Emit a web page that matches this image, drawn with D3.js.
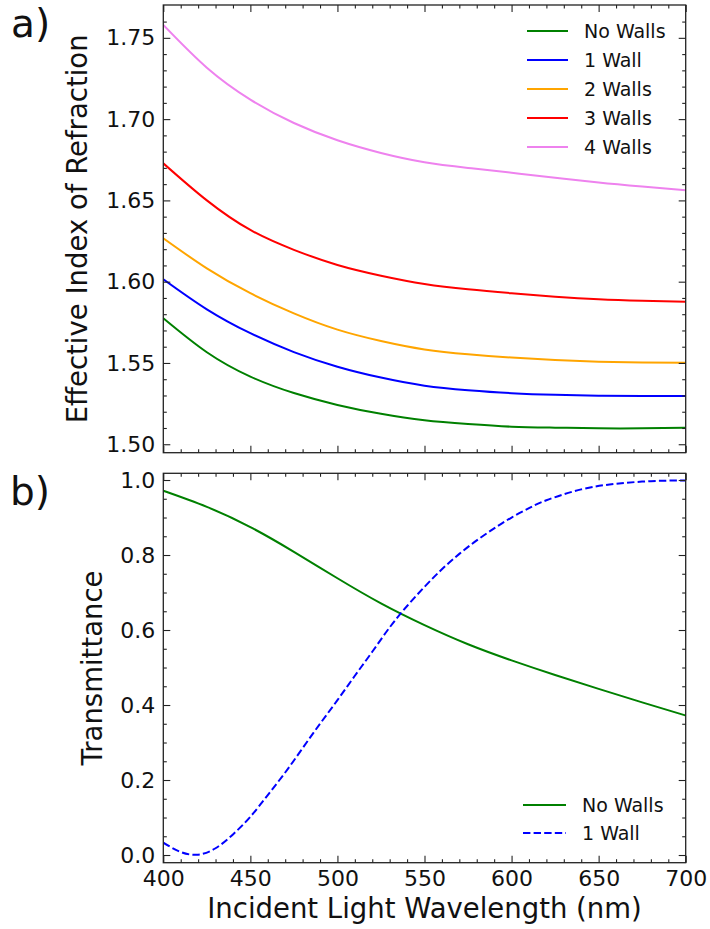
<!DOCTYPE html>
<html>
<head>
<meta charset="utf-8">
<script src="https://cdn.jsdelivr.net/npm/d3@7"></script>
<style>
  html, body { margin: 0; padding: 0; background: #fff; }
  svg text { font-family: "DejaVu Sans", sans-serif; fill: #111; }
</style>
</head>
<body>
<svg id="chart" width="710" height="929"></svg>
<script>
// ---------- data ----------
const wavelengths = [400, 425, 450, 475, 500, 525, 550, 575, 600, 625, 650, 675, 700];
const nNoWalls   = [1.5775, 1.5566, 1.5416, 1.5315, 1.5242, 1.5187, 1.5147, 1.5124, 1.5108, 1.5102, 1.5098, 1.5098, 1.5102];
const nOneWall   = [1.6015, 1.5830, 1.5683, 1.5567, 1.5477, 1.5410, 1.5360, 1.5332, 1.5314, 1.5304, 1.5299, 1.5297, 1.5297];
const nTwoWalls  = [1.6267, 1.6082, 1.5929, 1.5805, 1.5705, 1.5635, 1.5583, 1.5553, 1.5533, 1.5518, 1.5508, 1.5503, 1.5502];
const nThreeWalls= [1.6728, 1.6500, 1.6318, 1.6196, 1.6103, 1.6037, 1.5986, 1.5953, 1.5929, 1.5908, 1.5892, 1.5883, 1.5877];
const nFourWalls = [1.7579, 1.7316, 1.7120, 1.6976, 1.6870, 1.6792, 1.6735, 1.6700, 1.6670, 1.6640, 1.6610, 1.6585, 1.6562];
const indexSeriesNames = ["No Walls", "1 Wall", "2 Walls", "3 Walls", "4 Walls"];
const indexColors = ["green", "blue", "orange", "red", "violet"];

const tNoWallsWl = [400, 425, 450, 475, 500, 525, 550, 575, 600, 625, 650, 675, 700];
const tNoWalls   = [0.9715, 0.9285, 0.8745, 0.8085, 0.738, 0.671, 0.613, 0.562, 0.519, 0.480, 0.443, 0.407, 0.372];
const tOneWallWl = [400, 410, 420, 430, 440, 450, 460, 470, 480, 490, 500, 510, 520, 530, 540, 550, 560, 570, 580, 590, 600, 610, 620, 640, 660, 680, 700];
const tOneWall   = [0.033, 0.008, 0.001, 0.018, 0.055, 0.102, 0.160, 0.220, 0.285, 0.350, 0.413, 0.478, 0.542, 0.607, 0.664, 0.715, 0.762, 0.803, 0.839, 0.871, 0.900, 0.925, 0.946, 0.975, 0.990, 0.997, 0.999];
const transNames = ["No Walls", "1 Wall"];

const xMajor = [400, 450, 500, 550, 600, 650, 700];
const xTickLabels = ["400", "450", "500", "550", "600", "650", "700"];
const yTopMajor = [1.50, 1.55, 1.60, 1.65, 1.70, 1.75];
const yTopLabels = ["1.50", "1.55", "1.60", "1.65", "1.70", "1.75"];
const yBotMajor = [0.0, 0.2, 0.4, 0.6, 0.8, 1.0];
const yBotLabels = ["0.0", "0.2", "0.4", "0.6", "0.8", "1.0"];

// ---------- layout ----------
const L = 163.3, R = 685.7;
const topT = 5, topB = 452.7, botT = 473.3, botB = 862.7;

const svg = d3.select("#chart");
const x = d3.scaleLinear().domain([400, 700]).range([L, R]);
const yTop = d3.scaleLinear().domain([1.4948, 1.7702]).range([topB, topT]);
const yBot = d3.scaleLinear().domain([-0.0205, 1.0179]).range([botB, botT]);

const xMinor = d3.range(400, 701, 10).filter(v => v % 50 !== 0);
const yTopMinor = d3.range(150, 177, 1).map(v => v / 100).filter(v => Math.round(v * 100) % 5 !== 0 && v > 1.4948 && v < 1.7702);
const yBotMinor = d3.range(0, 21, 1).map(v => v * 0.05).filter((v, i) => i % 4 !== 0);

function drawPanel(y, top, bottom, yMajor, yLabels, yMinor, showXLabels) {
  const g = svg.append("g");
  const TL = 7, TS = 3.5;
  g.append("g").attr("transform", `translate(0,${bottom})`)
    .call(d3.axisBottom(x).tickValues(xMajor).tickSizeInner(-TL).tickSizeOuter(0).tickPadding(7.5)
      .tickFormat((d, i) => showXLabels ? xTickLabels[i] : ""))
    .call(a => a.selectAll("text").style("font-size", "22px"));
  g.append("g").attr("transform", `translate(0,${bottom})`)
    .call(d3.axisBottom(x).tickValues(xMinor).tickSizeInner(-TS).tickSizeOuter(0).tickFormat(""));
  g.append("g").attr("transform", `translate(0,${top})`)
    .call(d3.axisTop(x).tickValues(xMajor).tickSizeInner(-TL).tickSizeOuter(0).tickFormat(""));
  g.append("g").attr("transform", `translate(0,${top})`)
    .call(d3.axisTop(x).tickValues(xMinor).tickSizeInner(-TS).tickSizeOuter(0).tickFormat(""));
  g.append("g").attr("transform", `translate(${L},0)`)
    .call(d3.axisLeft(y).tickValues(yMajor).tickSizeInner(-TL).tickSizeOuter(0).tickPadding(8)
      .tickFormat((d, i) => yLabels[i]))
    .call(a => a.selectAll("text").style("font-size", "22px"));
  g.append("g").attr("transform", `translate(${L},0)`)
    .call(d3.axisLeft(y).tickValues(yMinor).tickSizeInner(-TS).tickSizeOuter(0).tickFormat(""));
  g.append("g").attr("transform", `translate(${R},0)`)
    .call(d3.axisRight(y).tickValues(yMajor).tickSizeInner(-TL).tickSizeOuter(0).tickFormat(""));
  g.append("g").attr("transform", `translate(${R},0)`)
    .call(d3.axisRight(y).tickValues(yMinor).tickSizeInner(-TS).tickSizeOuter(0).tickFormat(""));
  g.selectAll(".domain").remove();
  g.selectAll(".tick line").attr("stroke", "#222").attr("stroke-width", 1.1);
  g.append("rect").attr("x", L).attr("y", top).attr("width", R - L).attr("height", bottom - top)
    .attr("fill", "none").attr("stroke", "#222").attr("stroke-width", 1.3);
  return g;
}

// ---- panel a ----
svg.append("clipPath").attr("id", "clipA").append("rect")
  .attr("x", L).attr("y", topT).attr("width", R - L).attr("height", topB - topT);
const lineTop = d3.line().x(d => x(d[0])).y(d => yTop(d[1])).curve(d3.curveNatural);
const indexSeries = [nNoWalls, nOneWall, nTwoWalls, nThreeWalls, nFourWalls];
const gA = svg.append("g").attr("clip-path", "url(#clipA)");
indexSeries.forEach((s, i) => {
  gA.append("path").datum(wavelengths.map((w, j) => [w, s[j]]))
    .attr("d", lineTop).attr("fill", "none").attr("stroke", indexColors[i]).attr("stroke-width", 2);
});
drawPanel(yTop, topT, topB, yTopMajor, yTopLabels, yTopMinor, false);

const legA = svg.append("g");
indexSeriesNames.forEach((n, i) => {
  const yy = 31 + i * 29;
  legA.append("line").attr("x1", 527).attr("x2", 568).attr("y1", yy).attr("y2", yy)
    .attr("stroke", indexColors[i]).attr("stroke-width", 2);
  legA.append("text").attr("x", 584).attr("y", yy).attr("dy", "0.36em")
    .style("font-size", "19px").text(n);
});

// ---- panel b ----
svg.append("clipPath").attr("id", "clipB").append("rect")
  .attr("x", L).attr("y", botT).attr("width", R - L).attr("height", botB - botT);
const lineBot = d3.line().x(d => x(d[0])).y(d => yBot(d[1])).curve(d3.curveNatural);
const gB = svg.append("g").attr("clip-path", "url(#clipB)");
gB.append("path").datum(tNoWallsWl.map((w, j) => [w, tNoWalls[j]]))
  .attr("d", lineBot).attr("fill", "none").attr("stroke", "green").attr("stroke-width", 2);
gB.append("path").datum(tOneWallWl.map((w, j) => [w, tOneWall[j]]))
  .attr("d", lineBot).attr("fill", "none").attr("stroke", "blue").attr("stroke-width", 2).attr("stroke-dasharray", "7.4,3.2");
drawPanel(yBot, botT, botB, yBotMajor, yBotLabels, yBotMinor, true);

const legB = svg.append("g");
transNames.forEach((n, i) => {
  const yy = 805 + i * 28;
  const ln = legB.append("line").attr("x1", 523).attr("x2", 566).attr("y1", yy).attr("y2", yy)
    .attr("stroke", i === 0 ? "green" : "blue").attr("stroke-width", 2);
  if (i === 1) ln.attr("stroke-dasharray", "7.4,3.2");
  legB.append("text").attr("x", 582).attr("y", yy).attr("dy", "0.36em")
    .style("font-size", "19px").text(n);
});

// ---- labels ----
svg.append("text").attr("transform", `translate(87,${(topT + topB) / 2}) rotate(-90)`)
  .attr("text-anchor", "middle").style("font-size", "27.5px").text("Effective Index of Refraction");
svg.append("text").attr("transform", `translate(102,${(botT + botB) / 2}) rotate(-90)`)
  .attr("text-anchor", "middle").style("font-size", "27.5px").text("Transmittance");
svg.append("text").attr("x", (L + R) / 2).attr("y", 918)
  .attr("text-anchor", "middle").style("font-size", "27.5px").text("Incident Light Wavelength (nm)");
svg.append("text").attr("x", 11).attr("y", 37).style("font-size", "39px").text("a)");
svg.append("text").attr("x", 10).attr("y", 505).style("font-size", "39px").text("b)");
</script>
</body>
</html>
